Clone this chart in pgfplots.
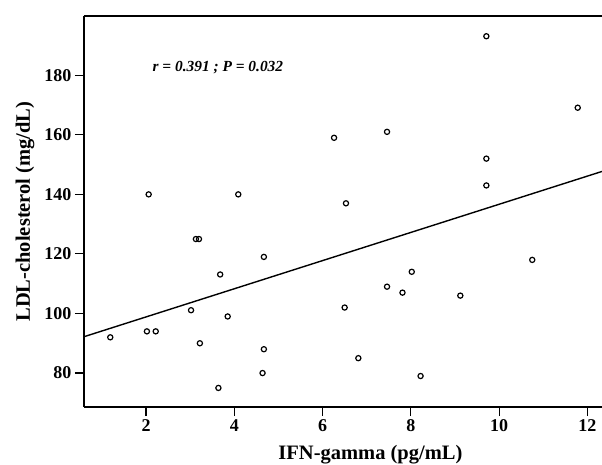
\documentclass[border=0pt]{standalone}
\usepackage{fontspec}
\setmainfont{Liberation Serif}
\usepackage{pgfplots}
\pgfplotsset{compat=1.18}
\newcommand{\tickfont}{\fontsize{18}{20}\selectfont\bfseries}

\begin{document}
\begin{tikzpicture}
\useasboundingbox (-84pt,-58pt) rectangle (518pt,407pt);
\begin{axis}[
  scale only axis, width=518pt, height=391pt,
  xmin=0.595, xmax=12.33, ymin=68.6, ymax=199.9,
  axis y line*=left, axis x line*=bottom,
  axis line style={line width=1.3pt, -},
  xtick={2,4,...,12}, ytick={80,100,...,180},
  tick align=outside, major tick length=9pt,
  tick style={line width=1.1pt, black},
  xticklabel={\tickfont\pgfmathprintnumber[assume math mode=true]{\tick}},
  yticklabel={\tickfont\pgfmathprintnumber[assume math mode=true]{\tick}},
  xlabel={IFN-gamma (pg/mL)}, ylabel={LDL-cholesterol (mg/dL)},
  label style={font=\fontsize{20.5}{23}\selectfont\bfseries},
  xlabel style={at={(axis description cs:0.553,0)}, anchor=center, yshift=-48pt},
  ylabel style={at={([xshift=-59pt]axis description cs:0,0.5)}, anchor=center},
  clip=false]
\addplot[only marks, mark=o, mark size=2.6pt, mark options={line width=1.2pt, black}] coordinates {
 (2.06,140) (4.09,140) (9.71,193.1) (11.78,169.1) (6.26,159) (7.46,161)
 (9.71,152) (9.71,143) (6.53,137) (3.13,125) (3.20,125) (4.67,119)
 (3.68,113.1) (3.02,101.1) (3.85,99) (1.19,92) (2.02,94) (2.22,94)
 (3.22,90) (4.67,88) (4.64,80) (3.64,75) (10.75,118) (8.02,114)
 (7.46,109) (7.81,107) (9.12,106) (6.50,102) (6.81,85) (8.22,79)};
\addplot[black, line width=1.4pt] coordinates {(0.595,92.2) (12.33,147.7)};
\draw[line width=1.3pt] (rel axis cs:0,1) -- (rel axis cs:1,1);
\node[anchor=west, font=\fontsize{15.4}{17}\selectfont\bfseries\itshape] at (axis cs:2.07,182.6) {r = 0.391 ; P = 0.032};
\end{axis}
\end{tikzpicture}
\end{document}
